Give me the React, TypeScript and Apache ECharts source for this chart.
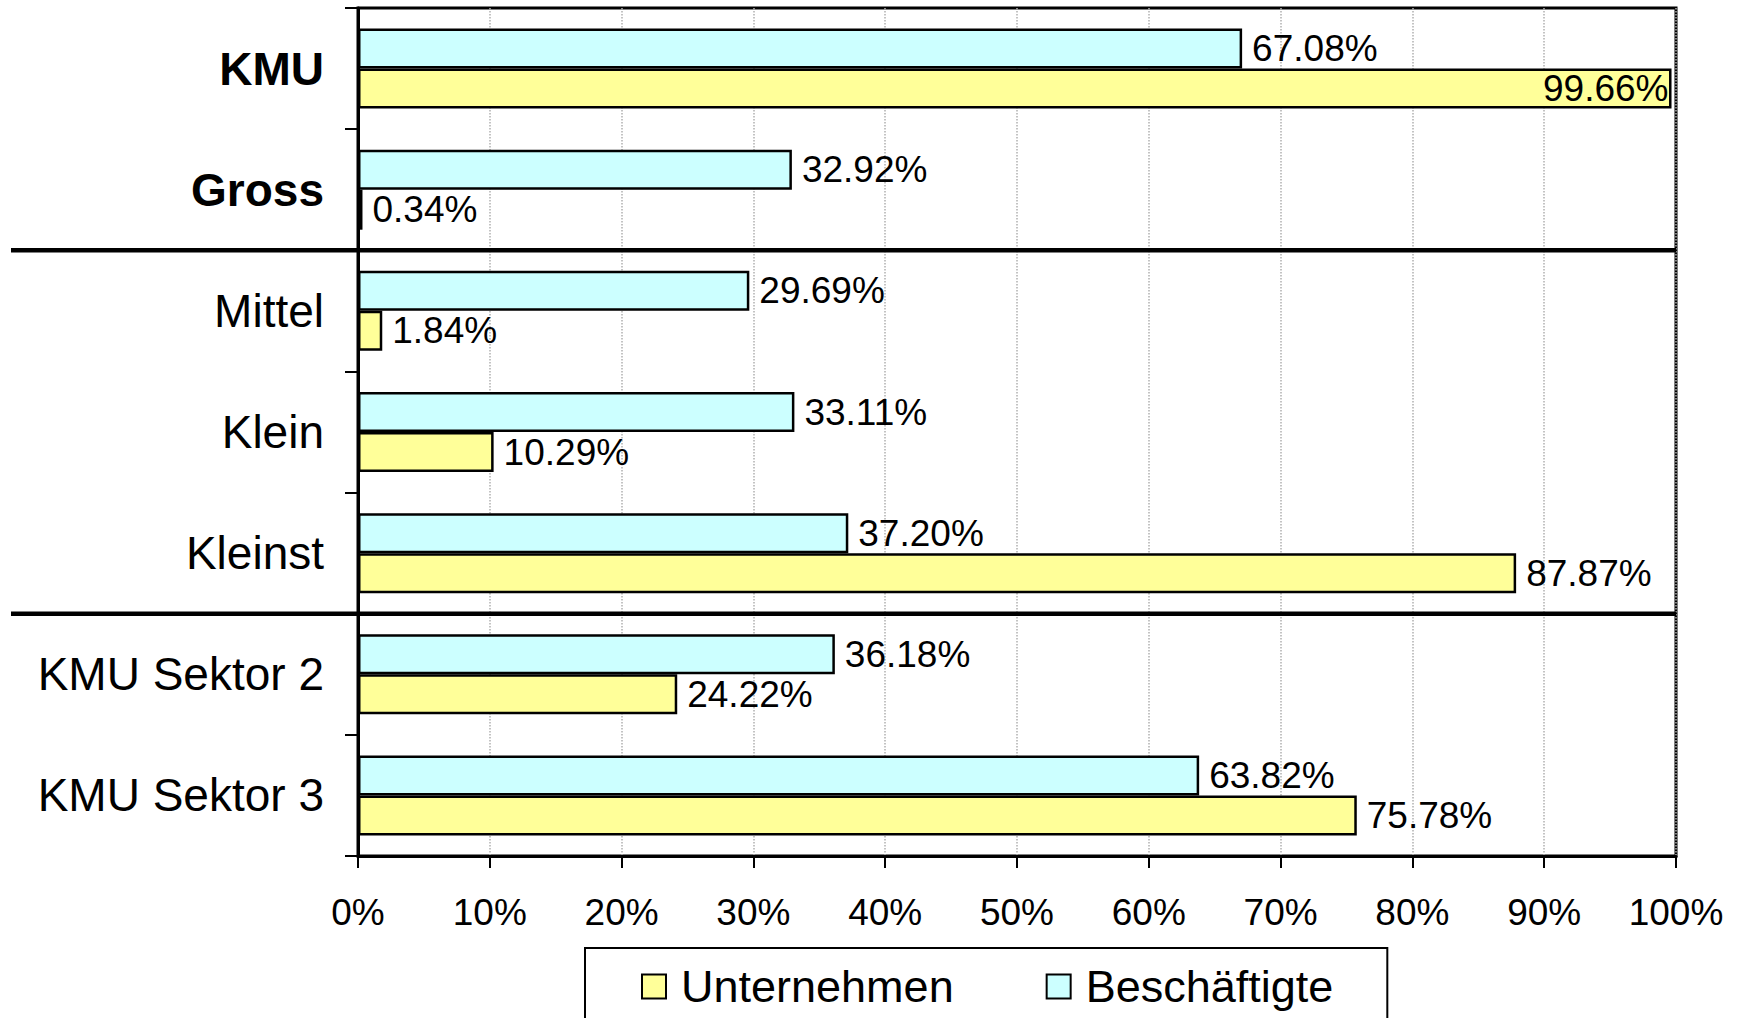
import React, { useEffect, useRef } from "react";
import * as echarts from "echarts";

const categories = ["KMU", "Gross", "Mittel", "Klein", "Kleinst", "KMU Sektor 2", "KMU Sektor 3"];
const boldCategories = ["KMU", "Gross"];
const unternehmen = [99.66, 0.34, 1.84, 10.29, 87.87, 24.22, 75.78];
const beschaeftigte = [67.08, 32.92, 29.69, 33.11, 37.2, 36.18, 63.82];
const insideLabelValues = [99.66];
const separatorAfter = [1, 4]; // lines between Gross|Mittel and Kleinst|KMU Sektor 2
const xMin = 0;
const xMax = 100;
const xInterval = 10;

const FONT = "'Liberation Sans', Arial, Helvetica, sans-serif";

export default function App() {
  const ref = useRef<HTMLDivElement>(null);

  useEffect(() => {
    if (!ref.current) return;
    const chart = echarts.init(ref.current, undefined, { renderer: "svg" });

    const fmt = (v: number) => v.toFixed(2) + "%";
    const mkData = (arr: number[]) =>
      arr.map((v) =>
        insideLabelValues.includes(v)
          ? { value: v, label: { position: "insideRight", distance: 3 } }
          : v
      );

    const baseLabel = {
      show: true,
      position: "right",
      distance: 10,
      color: "#000",
      fontSize: 37,
      fontFamily: FONT,
      formatter: (p: any) => fmt(p.value),
    };

    chart.setOption({
      animation: false,
      backgroundColor: "#fff",
      textStyle: { fontFamily: FONT },
      grid: {
        left: 358,
        right: 62,
        top: 8,
        bottom: 162,
        show: true,
        borderColor: "#000",
        borderWidth: 3,
        backgroundColor: "transparent",
      },
      legend: {
        data: ["Unternehmen", "Beschäftigte"],
        left: 585,
        top: 948,
        orient: "horizontal",
        icon: "rect",
        itemWidth: 24,
        itemHeight: 24,
        itemGap: 92,
        padding: [16, 54, 46, 56],
        borderColor: "#000",
        borderWidth: 2,
        itemStyle: { borderColor: "#000", borderWidth: 2 },
        textStyle: { fontSize: 45, color: "#000", fontFamily: FONT, padding: [0, 0, 0, 10] },
      },
      xAxis: {
        type: "value",
        min: xMin,
        max: xMax,
        interval: xInterval,
        axisLine: { show: true, lineStyle: { color: "#000", width: 3 } },
        axisTick: { show: true, length: 12, lineStyle: { color: "#000", width: 2 } },
        axisLabel: {
          formatter: "{value}%",
          fontSize: 37,
          color: "#000",
          fontFamily: FONT,
          margin: 38,
        },
        splitLine: { show: true, lineStyle: { color: "#b0b0b0", width: 1.5, type: "dotted" } },
      },
      yAxis: {
        type: "category",
        inverse: true,
        data: categories,
        axisLine: { show: true, lineStyle: { color: "#000", width: 3 } },
        axisTick: { show: true, length: 13, lineStyle: { color: "#000", width: 2 } },
        axisLabel: {
          margin: 34,
          formatter: (v: string) => (boldCategories.includes(v) ? `{b|${v}}` : `{n|${v}}`),
          rich: {
            b: { fontSize: 46, fontWeight: "bold", color: "#000", fontFamily: FONT },
            n: { fontSize: 46, color: "#000", fontFamily: FONT },
          },
        },
        splitLine: { show: false },
      },
      series: [
        {
          name: "Beschäftigte",
          type: "bar",
          data: mkData(beschaeftigte),
          barWidth: 40,
          barGap: "0%",
          itemStyle: { color: "#CCFFFF", borderColor: "#000", borderWidth: 2.5 },
          label: baseLabel,
        },
        {
          name: "Unternehmen",
          type: "bar",
          data: mkData(unternehmen),
          barWidth: 40,
          barGap: "0%",
          itemStyle: { color: "#FFFF99", borderColor: "#000", borderWidth: 2.5 },
          label: baseLabel,
        },
      ],
    });

    const rightX = chart.convertToPixel({ xAxisIndex: 0 }, xMax) as number;
    const lines = separatorAfter.map((i) => {
      const a = chart.convertToPixel({ yAxisIndex: 0 }, categories[i]) as number;
      const b = chart.convertToPixel({ yAxisIndex: 0 }, categories[i + 1]) as number;
      const y = (a + b) / 2;
      return {
        type: "line",
        shape: { x1: 11, y1: y, x2: rightX, y2: y },
        style: { stroke: "#000", lineWidth: 4.5 },
        z: 10,
      };
    });
    chart.setOption({ graphic: lines });

    return () => chart.dispose();
  }, []);

  return (
    <div
      ref={ref}
      style={{ position: "absolute", left: 0, top: 0, width: 1738, height: 1018 }}
    />
  );
}
